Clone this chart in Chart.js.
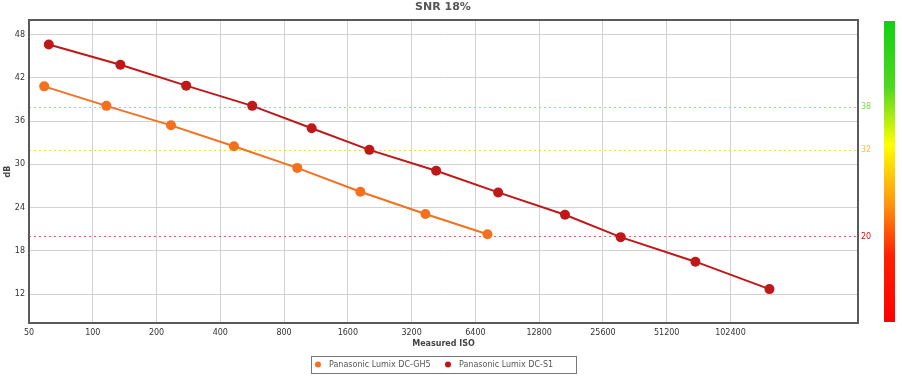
<!DOCTYPE html>
<html>
<head>
<meta charset="utf-8">
<script src="https://cdn.jsdelivr.net/npm/chart.js@4.4.1/dist/chart.umd.min.js"></script>
<style>
  html, body { margin: 0; padding: 0; background: #fff; }
  #wrap { width: 902px; height: 384px; position: relative; }
</style>
</head>
<body>
<div id="wrap"><canvas id="snrChart" width="902" height="384"></canvas></div>
<script>
// measured ISO / SNR (dB)
const gh5Iso = [59, 116, 234, 464, 923, 1833, 3719, 7300];
const gh5Db = [40.8, 38.1, 35.4, 32.5, 29.5, 26.2, 23.1, 20.3];
const s1Iso = [62, 135, 276, 566, 1080, 2022, 4178, 8200, 16950, 31050, 69960, 156470];
const s1Db = [46.6, 43.8, 40.9, 38.1, 35.0, 32.0, 29.1, 26.1, 23.0, 19.9, 16.5, 12.7];

const xTicks = [50, 100, 200, 400, 800, 1600, 3200, 6400, 12800, 25600, 51200, 102400];
const yTicks = [12, 18, 24, 30, 36, 42, 48];
const thresholds = [38, 32, 20];
const thresholdColors = ['#8ee65a', '#ffd040', '#e06060'];
const thresholdLabelColors = ['#7fd94f', '#ffc030', '#d01010'];

const seriesNames = ['Panasonic Lumix DC-GH5', 'Panasonic Lumix DC-S1'];
const seriesColors = ['#f5701e', '#c01818'];

const font = '"DejaVu Sans", Verdana, sans-serif';

function toPoints(xs, ys) {
    return xs.map((x, i) => ({ x: x, y: ys[i] }));
}

const extras = {
    id: 'extras',
    beforeDatasetsDraw(chart) {
        const ctx = chart.ctx;
        const area = chart.chartArea;
        const y = chart.scales.y;
        ctx.save();
        thresholds.forEach((t, i) => {
            const py = Math.round(y.getPixelForValue(t)) + 0.5;
            ctx.strokeStyle = thresholdColors[i];
            ctx.lineWidth = 1;
            ctx.setLineDash([2, 3]);
            ctx.beginPath();
            ctx.moveTo(area.left, py);
            ctx.lineTo(area.right, py);
            ctx.stroke();
        });
        ctx.restore();
    },
    afterDraw(chart) {
        const ctx = chart.ctx;
        const area = chart.chartArea;
        const y = chart.scales.y;
        ctx.save();

        // plot frame
        ctx.strokeStyle = '#5a5a5a';
        ctx.lineWidth = 2;
        ctx.strokeRect(area.left, area.top, area.right - area.left, area.bottom - area.top);

        // threshold labels
        ctx.font = '8px ' + font;
        ctx.textBaseline = 'middle';
        ctx.textAlign = 'left';
        thresholds.forEach((t, i) => {
            ctx.fillStyle = thresholdLabelColors[i];
            ctx.fillText(String(t), area.right + 3, y.getPixelForValue(t));
        });

        // colour bar
        const g = ctx.createLinearGradient(0, 21, 0, 322);
        g.addColorStop(0, '#10d010');
        g.addColorStop(0.22, '#50d820');
        g.addColorStop(0.41, '#ffff00');
        g.addColorStop(0.6, '#ff9a10');
        g.addColorStop(0.78, '#ff2000');
        g.addColorStop(1, '#ff0000');
        ctx.fillStyle = g;
        ctx.fillRect(884, 21, 11, 301);

        // title
        ctx.fillStyle = '#555';
        ctx.font = 'bold 11px ' + font;
        ctx.textAlign = 'center';
        ctx.textBaseline = 'middle';
        ctx.fillText('SNR 18%', 443, 7);

        // legend
        ctx.strokeStyle = '#777';
        ctx.lineWidth = 1;
        ctx.strokeRect(311.5, 356.5, 265, 17);
        ctx.font = '8px ' + font;
        ctx.textAlign = 'left';
        const itemX = [318, 448];
        seriesNames.forEach((name, i) => {
            ctx.fillStyle = seriesColors[i];
            ctx.beginPath();
            ctx.arc(itemX[i], 364.5, 3, 0, Math.PI * 2);
            ctx.fill();
            ctx.fillStyle = '#555';
            ctx.fillText(name, itemX[i] + 11, 365);
        });
        ctx.restore();
    }
};

const ctx = document.getElementById('snrChart').getContext('2d');
const snrChart = new Chart(ctx, {
    type: 'line',
    data: {
        datasets: [
            {
                label: seriesNames[0],
                data: toPoints(gh5Iso, gh5Db),
                borderColor: seriesColors[0],
                backgroundColor: seriesColors[0],
                borderWidth: 2,
                pointRadius: 5,
                pointHoverRadius: 5,
                pointBorderWidth: 0
            },
            {
                label: seriesNames[1],
                data: toPoints(s1Iso, s1Db),
                borderColor: seriesColors[1],
                backgroundColor: seriesColors[1],
                borderWidth: 2,
                pointRadius: 5,
                pointHoverRadius: 5,
                pointBorderWidth: 0
            }
        ]
    },
    options: {
        responsive: false,
        animation: false,
        events: [],
        layout: { padding: { left: 0, top: 20, right: 44, bottom: 31 } },
        plugins: {
            legend: { display: false },
            title: { display: false },
            tooltip: { enabled: false }
        },
        scales: {
            x: {
                type: 'logarithmic',
                min: 50,
                max: 409600,
                afterBuildTicks(scale) {
                    scale.ticks = xTicks.map(v => ({ value: v }));
                },
                afterFit(scale) { scale.height = 30; },
                ticks: {
                    autoSkip: false,
                    maxRotation: 0,
                    padding: 5,
                    color: '#333',
                    font: { family: font, size: 8 },
                    callback: v => String(v)
                },
                grid: { color: '#d2d2d2', drawTicks: false },
                border: { display: false },
                title: {
                    display: true,
                    text: 'Measured ISO',
                    color: '#444',
                    font: { family: font, size: 8, weight: 'bold' },
                    padding: { top: 0, bottom: 4 }
                }
            },
            y: {
                min: 8,
                max: 50,
                afterBuildTicks(scale) {
                    scale.ticks = yTicks.map(v => ({ value: v }));
                },
                afterFit(scale) { scale.width = 29; },
                ticks: {
                    padding: 4,
                    color: '#333',
                    font: { family: font, size: 8 }
                },
                grid: { color: '#d2d2d2', drawTicks: false },
                border: { display: false },
                title: {
                    display: true,
                    text: 'dB',
                    color: '#444',
                    font: { family: font, size: 8, weight: 'bold' },
                    padding: { top: 3, bottom: 0 }
                }
            }
        }
    },
    plugins: [extras]
});
</script>
</body>
</html>
